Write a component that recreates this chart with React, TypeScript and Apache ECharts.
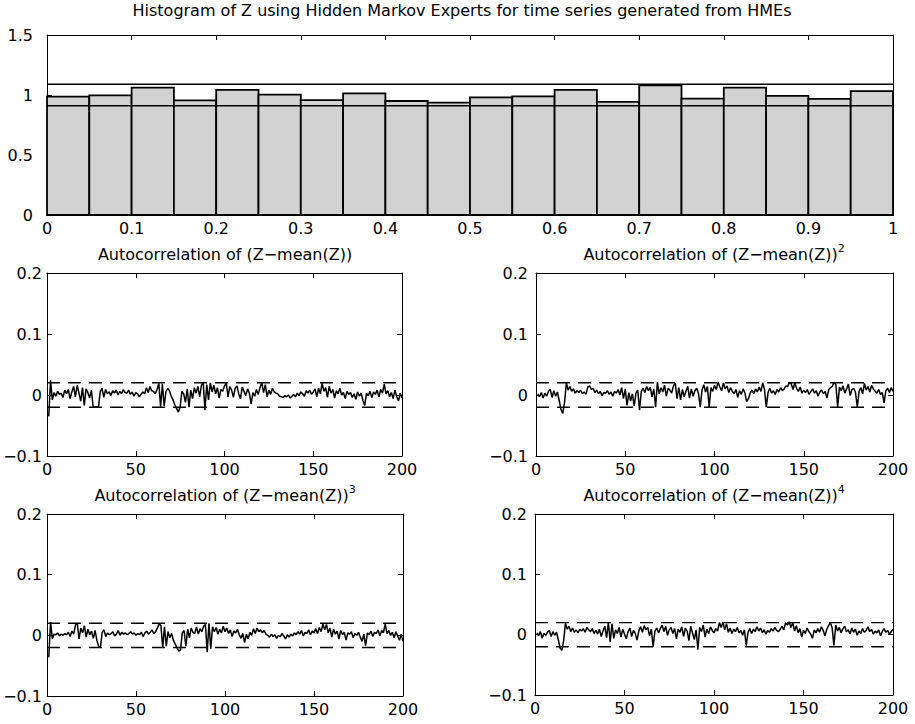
import React, { useEffect, useRef } from 'react';
import * as echarts from 'echarts';

const FONT = 'DejaVu Sans';

// Histogram of Z: 20 bins of width 0.05 on [0, 1]
const histBinWidth = 0.05;
const histHeights = [
  0.986, 0.997, 1.061, 0.956, 1.042, 1.003, 0.958, 1.014, 0.95, 0.936,
  0.981, 0.989, 1.042, 0.942, 1.081, 0.969, 1.061, 0.992, 0.967, 1.033,
];
const histBounds = [0.91, 1.09];

// Autocorrelation confidence bounds
const acfBounds = [-0.02, 0.02];

// Autocorrelations (in thousandths), lags 1..200
const acf1 = [
  -35, 24, -8, 4, -2, 6, 1, 3, -4, 8,
  2, 9, -6, 5, 14, -3, 16, 3, -10, 12,
  -17, 10, 4, -5, 8, -19, -20, -19, -20, 6,
  11, -4, 9, 2, 5, -1, 7, 3, 8, 0,
  6, 2, 9, 4, 3, 8, 1, 5, -2, 4,
  2, -3, 1, 5, 2, 12, 4, 14, 7, 6,
  2, 9, 19, -19, 18, -18, 5, 11, 7, -2,
  -8, -16, -22, -28, -20, 6, 2, -12, 10, -20,
  8, -6, 12, 3, 14, -3, 16, 20, -25, 17,
  -8, 20, 5, 16, 2, 12, -5, 9, 6, 15,
  19, -3, 14, 8, -4, 11, 15, 2, -6, 13,
  6, -1, 10, 3, -15, 4, -2, 9, 1, 12,
  21, 4, 17, -3, 8, 1, 11, 5, 3, 2,
  -2, -3, -4, -1, -3, 0, -5, -2, 1, -3,
  3, -1, 5, 2, -2, 7, 3, 8, 1, 5,
  10, -3, 11, 2, 19, 6, 12, -4, 14, 3,
  9, -5, 7, 2, 11, 0, 4, -6, 6, 1,
  4, -4, 2, -7, 5, -2, 3, -9, -17, 3,
  -1, 6, -4, 5, 1, 8, -3, 9, 3, 18,
  2, 7, -3, 4, -6, 8, -2, -10, 3, -5,
];

const acf2 = [
  2, -3, 4, -5, 3, -2, 6, 9, -4, 7,
  -2, 5, -9, -24, -30, -12, 20, 8, 14, 6,
  10, 3, 7, 4, 8, 2, 5, 1, 13, 15,
  9, 11, 4, 8, 2, 6, -1, 4, 3, 7,
  1, 5, -2, 6, 3, 9, 0, 12, -6, 10,
  -17, 4, -10, 2, -18, 3, 8, -25, 6, 11,
  4, 14, 7, 13, -3, 10, -20, 21, 2, 12,
  5, 16, -2, 11, 8, 3, 15, 20, -6, 12,
  -8, 9, -3, 6, 14, -5, 10, -2, 7, 11,
  3, -20, 8, 17, 5, 14, -20, 12, 6, 16,
  9, 21, 13, 7, 20, 10, 15, 4, 12, 6,
  2, 9, -4, 7, 1, 10, 4, -11, -6, 3,
  8, 2, 10, 5, 13, 6, 20, 9, -20, 4,
  11, 3, 7, 1, 9, 5, 12, 7, 10, 15,
  14, 21, 18, 9, 20, 11, 6, 13, 3, 8,
  4, 9, 1, 6, 10, 3, 7, -2, 5, 8,
  2, 6, -5, 9, 12, 14, 21, 17, -20, 13,
  7, 15, 3, 10, 18, -1, 9, 11, 4, -20,
  6, 12, 2, 19, 8, 14, 5, 16, 10, 6,
  3, 9, 1, 4, -13, 7, 11, 4, 12, 6,
];

const acf3 = [
  -36, 22, -6, 2, 1, 4, -1, 2, 0, 3,
  1, 5, -2, 7, 2, 17, 20, -6, 12, 4,
  16, -3, 10, 1, 7, -5, 8, -8, -18, -20,
  5, 9, -2, 4, 1, 3, 6, -1, 2, 8,
  0, 5, 2, 4, 1, 3, 6, 2, 4, 0,
  3, 1, 5, -2, 4, 7, 2, 5, 9, 3,
  6, 12, 19, 16, -20, 14, -18, 6, -4, 3,
  -8, -14, -20, -26, -24, 4, 8, -18, 10, -4,
  12, 5, 3, 14, 2, 11, 6, 15, 18, -28,
  20, -22, 14, 6, 13, 2, 10, 4, 15, 6,
  12, 3, 9, -2, 7, 4, 10, 1, -5, 3,
  -12, 2, -6, 5, 0, 11, 3, 12, 6, 9,
  4, 8, 2, 0, -3, 2, -2, 1, -5, 0,
  -2, 3, -1, -6, 1, -3, 2, -1, 4, 1,
  6, 2, 8, -1, 5, 3, 9, 1, 7, 4,
  11, 3, 13, 6, 19, 9, 18, 4, 12, -3,
  10, 2, 7, -6, 8, 1, 5, -8, 4, 2,
  6, -4, 3, 0, 5, -3, -10, 2, -17, 4,
  1, 7, -2, 5, 3, 9, -1, 8, 4, 19,
  3, 8, 0, 5, -4, 6, -1, -8, 2, -10,
];

const acf4 = [
  3, -2, 5, -6, 2, -1, 4, 7, -3, 5,
  -1, 4, -8, -22, -26, -10, 19, 9, 14, 5,
  11, 4, 8, 3, 9, 6, 10, 4, 12, 8,
  5, 10, 2, 7, 1, 9, -3, 6, 14, -5,
  20, -12, 18, -6, 8, 2, 12, -4, 9, 1,
  -7, 5, 11, -3, 7, 2, -9, 6, 13, 4,
  15, 8, 12, -2, 9, -20, 6, 11, 3, 10,
  16, 5, 14, -1, 8, 12, 2, 10, -7, 9,
  4, 13, -3, 11, 6, -10, 14, 3, -8, 8,
  -25, 12, 5, 16, -4, 9, 2, 13, 7, 3,
  10, 6, 20, 12, 21, 8, 18, 4, 11, 2,
  9, 5, 12, 3, 7, -1, 8, -18, 4, 10,
  2, 9, 5, 13, 6, 11, 3, 8, 1, 7,
  4, 10, 6, 12, 7, 5, 9, 14, 8, 20,
  16, 21, 12, 20, 6, 15, 3, 10, -4, 7,
  2, 11, 5, 1, -6, 8, 3, 10, 4, 13,
  7, -2, 9, 15, 20, 11, -18, 16, 6, 12,
  3, 10, 14, 5, 8, 1, 11, 4, 9, -1,
  6, 2, 10, 4, 7, 13, 5, 9, 1, 6,
  3, 8, -2, 5, 10, 4, 7, 1, 5, 9,
];

const acfSeries = [acf1, acf2, acf3, acf4];
const acfTitles = [
  'Autocorrelation of (Z\u2212mean(Z))',
  'Autocorrelation of (Z\u2212mean(Z))',
  'Autocorrelation of (Z\u2212mean(Z))',
  'Autocorrelation of (Z\u2212mean(Z))',
];
const acfPowers = ['', '2', '3', '4'];
const mainTitle = 'Histogram of Z using Hidden Markov Experts for time series generated from HMEs';

const grids = [
  { left: 47, top: 35, width: 846, height: 180 },
  { left: 47, top: 273, width: 355, height: 183 },
  { left: 536, top: 273, width: 357, height: 183 },
  { left: 47, top: 514, width: 356, height: 182 },
  { left: 535, top: 514, width: 358, height: 181 },
];

const fmtNum = (v: number) => {
  const r = Math.round(v * 1000) / 1000;
  return String(r).replace('-', '\u2212');
};

function makeAxes(gi: number, min: number, max: number, interval: number, isX: boolean, labelMargin: number) {
  const base = {
    type: 'value' as const,
    gridIndex: gi,
    min,
    max,
    interval,
    axisLine: { show: true, onZero: false, lineStyle: { color: '#000', width: 1 } },
    axisTick: { show: true, inside: true, length: 5, lineStyle: { color: '#000', width: 1 } },
    splitLine: { show: false },
  };
  const labeled = {
    ...base,
    position: isX ? 'bottom' : 'left',
    axisLabel: {
      show: true,
      color: '#000',
      fontFamily: FONT,
      fontSize: 16,
      margin: labelMargin,
      formatter: fmtNum,
      showMinLabel: true,
      showMaxLabel: true,
      hideOverlap: false,
    },
  };
  const mirror = {
    ...base,
    position: isX ? 'top' : 'right',
    axisLabel: { show: false },
  };
  return [labeled, mirror];
}

export default function App() {
  const ref = useRef<HTMLDivElement>(null);
  useEffect(() => {
    document.body.style.margin = '0';
    const chart = echarts.init(ref.current!, null, { renderer: 'svg' });

    const xAxis: any[] = [];
    const yAxis: any[] = [];
    xAxis.push(...makeAxes(0, 0, 1, 0.1, true, 5));
    yAxis.push(...makeAxes(0, 0, 1.5, 0.5, false, 14));
    for (let k = 1; k <= 4; k++) {
      xAxis.push(...makeAxes(k, 0, 200, 50, true, 5));
      yAxis.push(...makeAxes(k, -0.1, 0.2, 0.1, false, k % 2 === 1 ? 5 : 8));
    }

    const series: any[] = [];
    series.push({
      type: 'custom',
      xAxisIndex: 0,
      yAxisIndex: 0,
      data: histHeights.map((h, i) => [i * histBinWidth, (i + 1) * histBinWidth, h]),
      encode: { x: [0, 1], y: 2 },
      renderItem: (params: any, api: any) => {
        const p0 = api.coord([api.value(0), 0]);
        const p1 = api.coord([api.value(1), api.value(2)]);
        return {
          type: 'rect',
          shape: { x: p0[0], y: p1[1], width: p1[0] - p0[0], height: p0[1] - p1[1] },
          style: { fill: '#d2d2d2', stroke: '#000', lineWidth: 1.8 },
        };
      },
      z: 2,
    });
    histBounds.forEach((b) => {
      series.push({
        type: 'line',
        xAxisIndex: 0,
        yAxisIndex: 0,
        data: [[0, b], [1, b]],
        symbol: 'none',
        lineStyle: { color: '#000', width: 1.6 },
        z: 5,
        silent: true,
      });
    });

    acfSeries.forEach((arr, k) => {
      const ai = 2 * (k + 1);
      series.push({
        type: 'line',
        xAxisIndex: ai,
        yAxisIndex: ai,
        data: arr.map((v, j) => [j + 1, v / 1000]),
        symbol: 'none',
        lineStyle: { color: '#000', width: 1.5 },
        z: 4,
      });
      acfBounds.forEach((b) => {
        series.push({
          type: 'line',
          xAxisIndex: ai,
          yAxisIndex: ai,
          data: [[0, b], [200, b]],
          symbol: 'none',
          lineStyle: { color: '#000', width: 1.4, type: [13, 8] },
          z: 3,
        });
      });
    });

    const subCenters = [
      [225, 254],
      [714, 254],
      [225, 495],
      [714, 495],
    ];
    const graphic: any[] = [
      {
        type: 'text',
        x: 462,
        y: 10,
        style: {
          text: mainTitle,
          font: `16px "${FONT}"`,
          fill: '#000',
          textAlign: 'center',
          textVerticalAlign: 'middle',
        },
      },
    ];
    acfTitles.forEach((t, k) => {
      const pw = acfPowers[k];
      graphic.push({
        type: 'text',
        x: subCenters[k][0],
        y: subCenters[k][1],
        style: {
          text: pw ? `{m|${t}}{s|${pw}}` : `{m|${t}}`,
          textAlign: 'center',
          textVerticalAlign: 'middle',
          rich: {
            m: { fontFamily: FONT, fontSize: 16, lineHeight: 22, fill: '#000', color: '#000' },
            s: { fontFamily: FONT, fontSize: 11, lineHeight: 11, verticalAlign: 'top', fill: '#000', color: '#000' },
          },
        },
      });
    });

    chart.setOption({
      animation: false,
      backgroundColor: '#fff',
      grid: grids.map((g) => ({ ...g, containLabel: false, outerBoundsMode: 'none' })),
      xAxis,
      yAxis,
      series,
      graphic,
    });
    return () => chart.dispose();
  }, []);
  return <div ref={ref} style={{ width: 915, height: 724, background: '#fff' }} />;
}
